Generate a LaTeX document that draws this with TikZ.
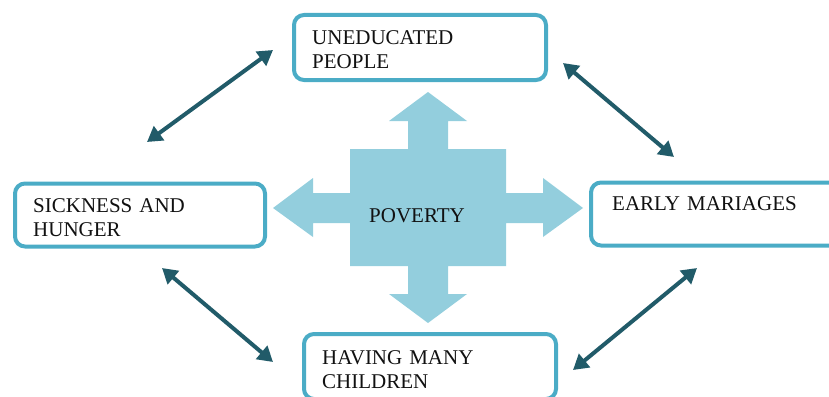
\documentclass[tikz,border=0pt]{standalone}
\usepackage{fontspec}
\setmainfont{Liberation Serif}
\usetikzlibrary{arrows.meta}
\definecolor{boxline}{HTML}{4BACC6}
\definecolor{povfill}{HTML}{93CEDD}
\definecolor{arrowcol}{HTML}{215B69}
\definecolor{txt}{HTML}{111111}
\tikzset{
  causebox/.style={draw=boxline, line width=4pt, rounded corners=10pt, fill=white,
    minimum width=252pt, minimum height=65pt, inner sep=0pt},
  causetext/.style={anchor=base west, inner sep=0pt, text width=240pt, align=left,
    font=\fontsize{21}{24}\selectfont, text=txt},
  link/.style={arrowcol, line width=4pt,
    {Triangle[length=15pt,width=17pt]}-{Triangle[length=15pt,width=17pt]}},
}
\begin{document}
\begin{tikzpicture}[x=1pt,y=-1pt]
\useasboundingbox (0,0) rectangle (829,396);
\clip (0,0) rectangle (829,396);
% central shape
\fill[povfill] (428,92) -- (467,121) -- (448,121) -- (448,149) -- (506,149) -- (506,193)
  -- (543,193) -- (543,178) -- (583,208) -- (543,237) -- (543,223) -- (506,223)
  -- (506,266) -- (448,266) -- (448,294) -- (467,294) -- (428,323) -- (389,294)
  -- (408,294) -- (408,266) -- (350,266) -- (350,223) -- (313,223) -- (313,237)
  -- (273,208) -- (313,178) -- (313,193) -- (350,193) -- (350,149) -- (408,149)
  -- (408,121) -- (389,121) -- cycle;
\node[inner sep=0pt, font=\fontsize{21}{24}\selectfont, text=txt] (pov) at (417,216) {POVERTY};
% boxes
\node[causebox] (top) at (420,47.5) {};
\node[causebox, minimum width=250pt, minimum height=63pt] (left) at (140,215) {};
\node[causebox, minimum height=63pt] (right) at (717,214) {};
\node[causebox] (bottom) at (430,366.5) {};
\node[causetext] (topt) at (312,45) {UNEDUCATED\\PEOPLE};
\node[causetext] (leftt) at (33,212) {SICKNESS AND\\HUNGER};
\node[causetext] (rightt) at (612,210) {EARLY MARIAGES};
\node[causetext] (bottomt) at (322,364) {HAVING MANY\\CHILDREN};
% arrows
\coordinate (a1s) at (147,142); \coordinate (a1e) at (273,50);
\coordinate (a2s) at (563,63);  \coordinate (a2e) at (674,157);
\coordinate (a3s) at (162,268); \coordinate (a3e) at (273,362);
\coordinate (a4s) at (573,370); \coordinate (a4e) at (697,268);
\draw[link] (a1s) -- (a1e);
\draw[link] (a2s) -- (a2e);
\draw[link] (a3s) -- (a3e);
\draw[link] (a4s) -- (a4e);
\end{tikzpicture}
\end{document}
